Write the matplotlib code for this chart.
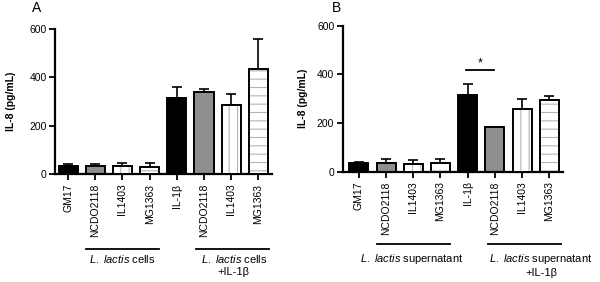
import matplotlib
matplotlib.use("Agg")
import matplotlib.pyplot as plt
import matplotlib.transforms as mtransforms
import numpy as np

plt.rcParams['font.family'] = ['Liberation Sans', 'DejaVu Sans']
plt.rcParams['mathtext.fontset'] = 'custom'
plt.rcParams['mathtext.rm'] = 'Liberation Sans'
plt.rcParams['mathtext.it'] = 'Liberation Sans:italic'
plt.rcParams['hatch.linewidth'] = 0.8

categories = ["GM17", "NCDO2118", "IL1403", "MG1363",
              "IL-1\u03b2", "NCDO2118", "IL1403", "MG1363"]
vals_a = [35, 32, 32, 30, 315, 338, 285, 435]
err_a = [5, 10, 12, 15, 45, 13, 47, 122]
vals_b = [35, 37, 32, 36, 315, 185, 257, 293]
err_b = [6, 14, 17, 18, 47, 0, 40, 20]
yticks = [0, 200, 400, 600]

fills = ['black', '#8f8f8f', 'white', 'white', 'black', '#8f8f8f', 'white', 'white']
hatches = [None, None, '||', '--', None, None, '||', '--']

fig = plt.figure(figsize=(6.0, 2.82), dpi=100)
axA = fig.add_axes([0.0917, 0.383, 0.3616, 0.514])
axB = fig.add_axes([0.571, 0.391, 0.367, 0.518])


def draw(ax, vals, errs, xlim, ylabx):
    x = np.arange(len(vals))
    w = 0.7
    ax.errorbar(x, vals, yerr=[np.zeros(len(errs)), errs], fmt='none',
                ecolor='black', elinewidth=1.2, capsize=3.6, capthick=1.2, zorder=1)
    for i in range(len(vals)):
        ax.bar(x[i], vals[i], width=w, color=fills[i], linewidth=0, zorder=2)
        if hatches[i]:
            ax.bar(x[i], vals[i], width=w, color='white', edgecolor='#b4b4b4',
                   hatch=hatches[i], linewidth=0, zorder=3)
        ax.bar(x[i], vals[i], width=w, fill=False, edgecolor='black',
               linewidth=1.4, zorder=4)
    ax.set_xlim(*xlim)
    ax.set_ylim(0, 600)
    ax.set_yticks(yticks)
    ax.set_xticks(x)
    ax.set_xticklabels(categories, rotation=90, fontsize=7.5)
    ax.tick_params(axis='y', labelsize=7.5, length=4, width=1.3, pad=2)
    ax.tick_params(axis='x', length=4, width=1.3, pad=3)
    for s in ['top', 'right']:
        ax.spines[s].set_visible(False)
    for s in ['left', 'bottom']:
        ax.spines[s].set_linewidth(1.6)
    ax.set_ylabel("IL-8 (pg/mL)", fontsize=7.5, fontweight='bold')
    ax.yaxis.set_label_coords(ylabx, 0.5)


draw(axA, vals_a, err_a, (-0.48, 7.5), -0.18)
draw(axB, vals_b, err_b, (-0.6, 7.5), -0.155)


def group(ax, x0, x1, yline, text, xtext, ytext):
    tr = mtransforms.blended_transform_factory(ax.transData, ax.transAxes)
    ax.plot([x0, x1], [yline, yline], transform=tr, color='black', lw=1.3,
            clip_on=False)
    ax.text(xtext, ytext, text, transform=tr, ha='center', va='top',
            fontsize=8, linespacing=1.25)


group(axA, 0.65, 3.35, -0.517, r"$\it{L.}$ $\it{lactis}$ cells", 2.0, -0.545)
group(axA, 4.7, 7.4, -0.517, "$\\it{L.}$ $\\it{lactis}$ cells\n+IL-1\u03b2", 6.1, -0.545)
group(axB, 0.65, 3.35, -0.495, r"$\it{L.}$ $\it{lactis}$ supernatant", 1.95, -0.55)
group(axB, 4.75, 7.45, -0.495, "$\\it{L.}$ $\\it{lactis}$ supernatant\n+IL-1\u03b2", 6.7, -0.55)

# significance
axB.plot([3.95, 4.98], [418, 418], color='black', lw=1.3, clip_on=False)
axB.text(4.45, 422, "*", ha='center', va='bottom', fontsize=9)

fig.text(37 / 600, 1 - 8 / 282, "A", fontsize=10, ha='center', va='center')
fig.text(336 / 600, 1 - 8 / 282, "B", fontsize=10, ha='center', va='center')

fig.savefig("out.png", dpi=100)
